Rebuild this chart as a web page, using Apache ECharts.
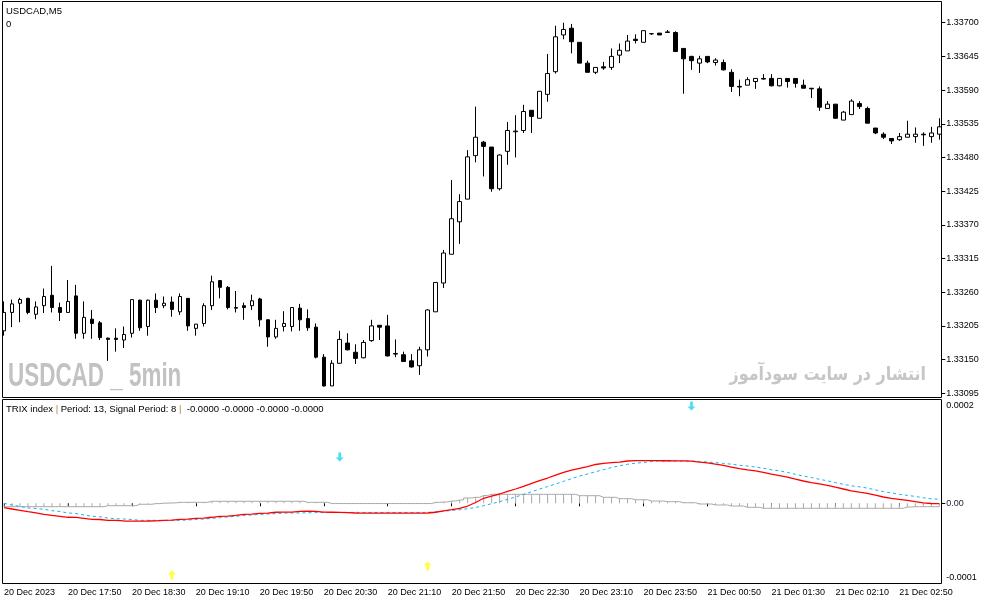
<!DOCTYPE html>
<html>
<head>
<meta charset="utf-8">
<script src="https://cdn.jsdelivr.net/npm/echarts@6/dist/echarts.min.js"></script>
<style>html,body{margin:0;padding:0;background:#fff;}#c{width:987px;height:605px;}</style>
</head>
<body>
<div id="c"></div>
<script>
// ---- price data (USDCAD M5) ----
const opens  = [1.33197,1.33227,1.33242,1.33250,1.33224,1.33238,1.33255,1.33235,1.33227,1.33254,
1.33193,1.33216,1.33210,1.33185,1.33185,1.33182,1.33193,1.33247,1.33204,1.33247,
1.33238,1.33244,1.33228,1.33250,1.33201,1.33209,1.33238,1.33279,1.33268,1.33235,
1.33238,1.33238,1.33249,1.33215,1.33187,1.33204,1.33204,1.33234,1.33217,1.33203,
1.33154,1.33107,1.33144,1.33177,1.33162,1.33153,1.33181,1.33206,1.33205,1.33159,
1.33158,1.33148,1.33140,1.33166,1.33228,1.33275,1.33322,1.33375,1.33412,1.33483,
1.33505,1.33497,1.33429,1.33490,1.33522,1.33524,1.33557,1.33544,1.33583,1.33620,
1.33680,1.33691,1.33668,1.33634,1.33619,1.33628,1.33627,1.33647,1.33654,1.33673,
1.33668,1.33682,1.33683,1.33684,1.33684,1.33658,1.33645,1.33634,1.33645,1.33635,
1.33635,1.33619,1.33596,1.33598,1.33604,1.33609,1.33609,1.33597,1.33609,1.33609,
1.33598,1.33593,1.33592,1.33560,1.33567,1.33541,1.33550,1.33568,1.33560,1.33528,
1.33518,1.33511,1.33509,1.33513,1.33514,1.33518,1.33514,1.33518];
const highs  = [1.33245,1.33248,1.33251,1.33251,1.33245,1.33266,1.33303,1.33243,1.33280,1.33272,
1.33245,1.33231,1.33213,1.33186,1.33201,1.33204,1.33248,1.33248,1.33248,1.33258,
1.33253,1.33253,1.33258,1.33250,1.33208,1.33242,1.33287,1.33280,1.33270,1.33262,
1.33243,1.33256,1.33251,1.33216,1.33215,1.33229,1.33235,1.33241,1.33232,1.33209,
1.33159,1.33149,1.33197,1.33193,1.33175,1.33182,1.33215,1.33206,1.33223,1.33183,
1.33163,1.33159,1.33171,1.33232,1.33276,1.33329,1.33443,1.33420,1.33492,1.33563,
1.33507,1.33497,1.33485,1.33538,1.33549,1.33566,1.33557,1.33588,1.33649,1.33695,
1.33700,1.33698,1.33668,1.33638,1.33627,1.33636,1.33658,1.33666,1.33680,1.33681,
1.33687,1.33683,1.33683,1.33688,1.33686,1.33658,1.33646,1.33646,1.33645,1.33642,
1.33640,1.33624,1.33607,1.33611,1.33609,1.33616,1.33616,1.33609,1.33609,1.33609,
1.33607,1.33593,1.33596,1.33572,1.33567,1.33556,1.33575,1.33572,1.33563,1.33528,
1.33521,1.33511,1.33520,1.33540,1.33529,1.33521,1.33530,1.33544];
const lows   = [1.33189,1.33203,1.33211,1.33224,1.33216,1.33226,1.33227,1.33213,1.33227,1.33184,
1.33184,1.33184,1.33182,1.33148,1.33163,1.33169,1.33186,1.33197,1.33189,1.33226,
1.33234,1.33220,1.33223,1.33197,1.33189,1.33204,1.33231,1.33250,1.33232,1.33227,
1.33215,1.33231,1.33204,1.33171,1.33184,1.33196,1.33196,1.33197,1.33197,1.33152,
1.33106,1.33107,1.33144,1.33165,1.33143,1.33152,1.33179,1.33182,1.33155,1.33154,
1.33147,1.33137,1.33125,1.33155,1.33228,1.33267,1.33322,1.33339,1.33412,1.33472,
1.33449,1.33424,1.33426,1.33468,1.33480,1.33520,1.33520,1.33544,1.33571,1.33617,
1.33673,1.33650,1.33634,1.33619,1.33616,1.33623,1.33623,1.33634,1.33654,1.33666,
1.33668,1.33680,1.33680,1.33684,1.33652,1.33584,1.33623,1.33618,1.33634,1.33630,
1.33622,1.33587,1.33580,1.33598,1.33592,1.33607,1.33596,1.33596,1.33594,1.33594,
1.33593,1.33577,1.33556,1.33560,1.33543,1.33541,1.33550,1.33559,1.33536,1.33518,
1.33510,1.33502,1.33507,1.33513,1.33504,1.33499,1.33504,1.33509];
const closes = [1.33227,1.33241,1.33248,1.33227,1.33236,1.33253,1.33235,1.33227,1.33245,1.33193,
1.33219,1.33209,1.33186,1.33183,1.33183,1.33191,1.33248,1.33202,1.33247,1.33235,
1.33242,1.33232,1.33253,1.33205,1.33208,1.33238,1.33277,1.33268,1.33235,1.33234,
1.33235,1.33246,1.33215,1.33187,1.33201,1.33209,1.33235,1.33215,1.33202,1.33154,
1.33107,1.33144,1.33183,1.33166,1.33152,1.33178,1.33205,1.33203,1.33156,1.33160,
1.33147,1.33138,1.33166,1.33231,1.33276,1.33324,1.33380,1.33408,1.33481,1.33513,
1.33498,1.33429,1.33484,1.33524,1.33523,1.33555,1.33547,1.33588,1.33617,1.33677,
1.33689,1.33669,1.33634,1.33619,1.33627,1.33626,1.33645,1.33655,1.33670,1.33671,
1.33687,1.33682,1.33680,1.33685,1.33653,1.33641,1.33638,1.33641,1.33636,1.33639,
1.33623,1.33596,1.33595,1.33607,1.33609,1.33608,1.33597,1.33609,1.33604,1.33601,
1.33593,1.33592,1.33562,1.33567,1.33544,1.33554,1.33572,1.33563,1.33536,1.33520,
1.33513,1.33507,1.33514,1.33518,1.33518,1.33517,1.33520,1.33530];

// ---- TRIX indicator (values in millionths) ----
const trixMicro = [-6.8,-8.8,-10.8,-12.9,-14.9,-16.9,-18.5,-20.0,-21.5,-21.8,
-23.1,-24.6,-24.9,-26.2,-26.4,-27.2,-27.3,-27.3,-27.2,-27.0,
-26.2,-26.0,-24.6,-24.4,-23.1,-22.8,-21.5,-20.0,-19.8,-18.5,
-16.9,-16.7,-15.4,-15.2,-13.8,-13.7,-13.6,-12.3,-12.2,-12.3,
-13.6,-13.8,-14.0,-14.2,-14.9,-15.0,-15.0,-15.0,-15.0,-15.0,
-15.1,-15.1,-15.0,-14.9,-13.8,-11.8,-9.8,-7.7,-4.2,1.2,
7.7,11.2,14.3,18.2,22.0,26.2,30.5,34.8,38.9,43.5,
47.7,50.9,53.8,56.6,59.7,61.5,62.6,63.5,65.1,65.5,
65.6,65.6,65.5,65.5,65.4,65.3,64.8,63.5,62.3,60.2,
58.2,55.8,53.4,51.5,49.8,47.5,44.8,42.6,40.3,37.1,
34.3,31.8,29.8,27.7,24.8,22.0,19.2,17.1,15.2,12.5,
9.7,7.7,6.0,4.5,2.6,0.5,-0.3,-0.4];
const signalMicro = [0,-2.6,-4.9,-7.2,-8.0,-9.2,-11.4,-12.6,-14.9,-15.7,
-18.0,-20.0,-20.8,-22.6,-23.7,-24.2,-24.9,-26.2,-26.2,-26.2,
-26.2,-26.2,-26.2,-25.7,-24.9,-24.2,-23.2,-22.2,-21.1,-20.0,
-18.9,-18.0,-17.2,-16.5,-15.8,-15.2,-14.9,-14.8,-14.6,-14.3,
-14.2,-14.1,-14.1,-14.0,-14.0,-14.1,-14.1,-14.1,-14.1,-14.1,
-14.1,-14.1,-14.1,-14.0,-12.9,-12.2,-11.1,-10.0,-8.3,-6.5,
-3.7,-0.6,2.5,6.2,9.7,13.8,17.8,22.0,25.8,29.7,
33.8,37.8,42.0,45.1,48.6,51.7,55.1,57.8,60.0,61.7,
62.8,64.2,65.1,65.1,65.1,65.0,64.8,64.3,63.5,62.6,
61.4,60.2,58.5,57.4,55.8,54.0,51.5,50.0,47.5,44.6,
42.0,39.7,36.9,34.6,31.8,29.2,26.9,25.4,23.4,20.6,
18.0,16.0,13.8,12.2,10.5,8.5,6.9,6.2];
const histMicro = [-5.2,-5.2,-5.2,-5.2,-5.2,-5.2,-5.2,-5.2,-5.2,-5.2,
-5.2,-5.2,-5.2,-3.7,-3.7,-3.7,-3.7,-1.5,-1.5,-0.5,
0.2,0.6,1.5,1.5,1.5,1.5,3.1,3.1,3.1,3.1,
3.1,3.1,3.1,3.1,3.1,3.1,3.1,3.1,1.5,1.5,
1.5,-0.4,-0.4,-0.4,-0.4,-0.4,-0.4,-0.4,-0.4,-0.4,
-0.4,-0.4,-0.4,-0.4,1.5,2.0,3.5,5.1,8.2,9.2,
12.0,13.8,13.8,13.8,13.8,13.8,13.8,13.8,13.8,13.8,
13.8,13.8,11.7,11.7,11.7,9.2,9.2,7.1,7.1,5.5,
5.5,3.5,3.5,2.5,2.5,0.9,0.9,-1.1,-1.1,-2.6,
-2.6,-4.2,-4.2,-6.2,-6.2,-7.7,-7.7,-7.7,-7.7,-7.7,
-7.7,-7.7,-7.7,-7.7,-7.7,-7.7,-7.7,-7.7,-7.7,-7.7,
-7.7,-7.7,-7.7,-5.7,-5.2,-5.2,-5.2,-5.2];
// signal arrows: [bar index, value in millionths]
const arrowsDown = [[42, 71.2], [86, 149.7]];
const arrowsUp   = [[21, -110.3], [53, -96.5]];

// ---- axis labels ----
const timeLabels = ['20 Dec 2023','20 Dec 17:50','20 Dec 18:30','20 Dec 19:10','20 Dec 19:50',
'20 Dec 20:30','20 Dec 21:10','20 Dec 21:50','20 Dec 22:30','20 Dec 23:10','20 Dec 23:50',
'21 Dec 00:50','21 Dec 01:30','21 Dec 02:10','21 Dec 02:50'];
const priceTicks = [1.33095,1.33150,1.33205,1.33260,1.33315,1.33370,1.33425,1.33480,1.33535,1.33590,1.33645,1.33700];
const priceMin = 1.3308814, priceMax = 1.3373461;
const indMax = 159.7e-6, indMin = -123.4e-6;

const categories = opens.map((_, i) => i);
const candles = opens.map((o, i) => [o, closes[i], lows[i], highs[i]]);
const micro = a => a.map(v => v * 1e-6);
const FONT = '"Liberation Sans", Arial, sans-serif';

const chart = echarts.init(document.getElementById('c'), null, {renderer: 'canvas'});
chart.setOption({
  animation: false,
  backgroundColor: '#ffffff',
  grid: [
    {left: 4, top: 1.5, width: 935.3, height: 396},
    {left: 4, top: 399.5, width: 935.3, height: 184}
  ],
  xAxis: [
    {type: 'category', gridIndex: 0, data: categories, boundaryGap: false, show: false},
    {type: 'category', gridIndex: 1, data: categories, boundaryGap: false,
     axisLine: {show: false},
     axisTick: {show: true, interval: 7, length: 3, lineStyle: {color: '#000'}},
     axisLabel: {interval: 7, align: 'left', margin: 5, fontSize: 9, fontFamily: FONT, color: '#000',
       formatter: (v, i) => (i % 8 === 0 && timeLabels[i / 8]) ? timeLabels[i / 8] : ''},
     splitLine: {show: false}}
  ],
  yAxis: [
    {type: 'value', gridIndex: 0, position: 'right', offset: 2, min: priceMin, max: priceMax,
     axisLine: {show: false},
     axisTick: {show: true, length: 4, customValues: priceTicks, lineStyle: {color: '#000'}},
     axisLabel: {customValues: priceTicks, margin: 5, fontSize: 9, fontFamily: FONT, color: '#000',
       formatter: v => v.toFixed(5)},
     splitLine: {show: false}},
    {type: 'value', gridIndex: 1, position: 'right', offset: 2, min: indMin, max: indMax,
     axisLine: {show: false},
     axisTick: {show: true, length: 4, customValues: [0], lineStyle: {color: '#000'}},
     axisLabel: {customValues: [indMax, 0, indMin], margin: 5, fontSize: 9, fontFamily: FONT, color: '#000',
       formatter: v => v === 0 ? '{z|0.00}' : (v > 0 ? '{t|' + v.toFixed(4) + '}' : '{b|' + v.toFixed(4) + '}'),
       rich: {
         t: {fontSize: 9, fontFamily: FONT, color: '#000', padding: [13, 0, 0, 0]},
         b: {fontSize: 9, fontFamily: FONT, color: '#000', padding: [0, 0, 12, 0]},
         z: {fontSize: 9, fontFamily: FONT, color: '#1a1a3a'}
       }},
     splitLine: {show: false}}
  ],
  series: [
    {type: 'candlestick', xAxisIndex: 0, yAxisIndex: 0, data: candles, barWidth: 4, clip: false,
     itemStyle: {color: '#ffffff', color0: '#000000', borderColor: '#000000', borderColor0: '#000000',
       borderColorDoji: '#000000', borderWidth: 1}},
    {type: 'bar', xAxisIndex: 1, yAxisIndex: 1, data: micro(histMicro), barWidth: 1,
     itemStyle: {color: '#a8a8a8'}, silent: true},
    {type: 'line', xAxisIndex: 1, yAxisIndex: 1, data: micro(histMicro), step: 'middle',
     symbol: 'none', lineStyle: {color: '#a8a8a8', width: 1}, silent: true},
    {type: 'line', xAxisIndex: 1, yAxisIndex: 1, data: micro(signalMicro), symbol: 'none',
     lineStyle: {color: '#14b4ec', width: 1, type: [3, 3]}, silent: true},
    {type: 'line', xAxisIndex: 1, yAxisIndex: 1, data: micro(trixMicro), symbol: 'none',
     lineStyle: {color: '#ff0000', width: 1.3}, silent: true},
    {type: 'scatter', xAxisIndex: 1, yAxisIndex: 1, data: arrowsDown.map(a => [a[0], a[1] * 1e-6]),
     symbol: 'path://M3,0 L6,0 L6,6 L9,6 L4.5,11 L0,6 L3,6 Z', symbolSize: [8, 9],
     itemStyle: {color: '#1ad6f0'}, silent: true},
    {type: 'scatter', xAxisIndex: 1, yAxisIndex: 1, data: arrowsUp.map(a => [a[0], a[1] * 1e-6]),
     symbol: 'path://M4.5,0 L9,5 L6,5 L6,11 L3,11 L3,5 L0,5 Z', symbolSize: [8, 9],
     itemStyle: {color: '#ffff00'}, silent: true}
  ],
  graphic: [
    {type: 'rect', z: 100, silent: true, shape: {x: 2.5, y: 1.5, width: 939, height: 396},
     style: {fill: 'none', stroke: '#000', lineWidth: 1}},
    {type: 'rect', z: 100, silent: true, shape: {x: 2.5, y: 399.5, width: 939, height: 184},
     style: {fill: 'none', stroke: '#000', lineWidth: 1}},
    {type: 'text', z: 101, left: 6, top: 6, style: {text: 'USDCAD,M5', font: '9.5px ' + FONT, fill: '#000'}},
    {type: 'text', z: 101, left: 6, top: 19, style: {text: '0', font: '9.5px ' + FONT, fill: '#000'}},
    {type: 'text', z: 101, left: 6, top: 404,
     style: {text: '{k|TRIX index }{o||}{k| Period: 13, Signal Period: 8 }{o||}{k|  -0.0000 -0.0000 -0.0000 -0.0000}',
       rich: {k: {fontSize: 9.5, fontFamily: FONT, fill: '#000'}, o: {fontSize: 9.5, fontFamily: FONT, fill: '#c08030'}}}},
    {type: 'text', z: 50, x: 8, y: 377, scaleX: 0.68, silent: true,
     style: {text: 'USDCAD _ 5min', font: 'bold 33px ' + FONT, fill: '#c2c2c2', verticalAlign: 'middle', align: 'left'}},
    {type: 'text', z: 50, x: 926, y: 375, scaleX: 0.84, silent: true,
     style: {text: 'انتشار در سایت سودآموز', font: 'bold 19px "DejaVu Sans", sans-serif', fill: '#c6c6c6', verticalAlign: 'middle', align: 'right'}}
  ]
});
</script>
</body>
</html>
